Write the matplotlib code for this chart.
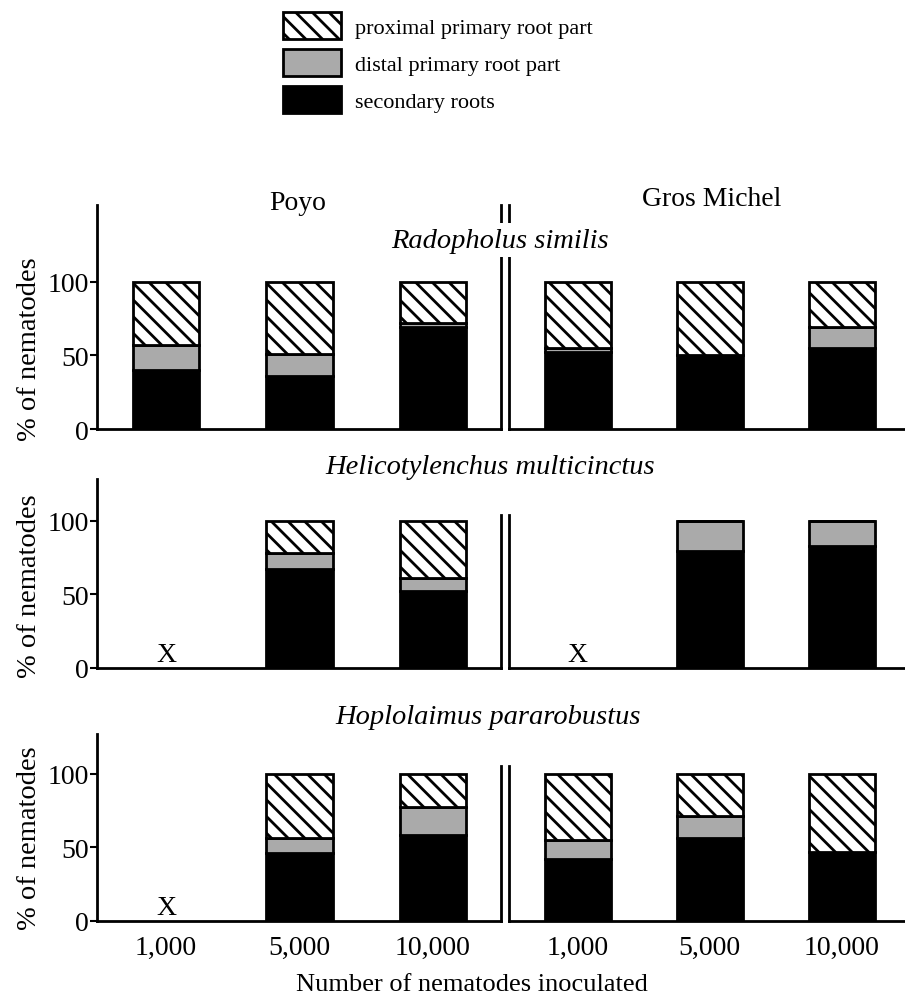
import matplotlib
matplotlib.use("Agg")
import matplotlib.pyplot as plt
from matplotlib.patches import Patch
import numpy as np

plt.rcParams["font.family"] = ["Liberation Serif", "DejaVu Serif"]
plt.rcParams["hatch.linewidth"] = 2.0

# Daten (Prozent der Nematoden je Wurzelteil)
doses = ["1,000", "5,000", "10,000"]
cultivars = ["Poyo", "Gros Michel"]
species = ["Radopholus similis", "Helicotylenchus multicinctus", "Hoplolaimus pararobustus"]
nan = np.nan

# [Art][Sorte][Dosis]
secondary = [
    [[40, 36, 69], [52, 50, 55]],
    [[nan, 67, 52], [nan, 79, 83]],
    [[nan, 46, 58], [42, 56, 47]],
]
distal = [
    [[17, 15, 3], [3, 0, 14]],
    [[nan, 11, 9], [nan, 21, 17]],
    [[nan, 10, 19], [13, 15, 0]],
]
proximal = [
    [[43, 49, 28], [45, 50, 31]],
    [[nan, 22, 39], [nan, 0, 0]],
    [[nan, 44, 23], [45, 29, 53]],
]

W, H = 905, 1004
fig = plt.figure(figsize=(W / 100, H / 100), dpi=100)

# Layout in Pixel (x links/rechts pro Sorte, y oben/Grundlinie pro Zeile)
panel_x = [(97, 501), (509, 905)]
xlims = [(-0.517, 2.51), (-0.52, 2.48)]
rows = [(206, 430), (480, 669), (735, 922)]
px_per_pct = 1.475
divider_top = [None, 104, 105]
ylabel_pos = [0.36, 0.44, 0.45]

bar_w = 0.5
x = np.arange(len(doses))

for r in range(3):
    ytop, ybase = rows[r]
    ymax = (ybase - ytop) / px_per_pct
    for c in range(2):
        x0, x1 = panel_x[c]
        ax = fig.add_axes([x0 / W, 1 - ybase / H, (x1 - x0) / W, (ybase - ytop) / H])
        sec = np.array(secondary[r][c], dtype=float)
        dis = np.array(distal[r][c], dtype=float)
        pro = np.array(proximal[r][c], dtype=float)
        ax.bar(x, sec, bar_w, color="black", edgecolor="black", linewidth=2)
        ax.bar(x, dis, bar_w, bottom=sec, color="#aaaaaa", edgecolor="black", linewidth=2)
        ax.bar(x, pro, bar_w, bottom=sec + dis, color="white", edgecolor="black",
               linewidth=2, hatch="\\\\")
        for i in x:
            if np.isnan(sec[i]):
                ax.text(i, 0.5, "X", ha="center", va="bottom", fontsize=20)
        ax.set_xlim(*xlims[c])
        ax.set_ylim(0, ymax)
        ax.spines["top"].set_visible(False)
        for s in ["left", "right", "bottom"]:
            ax.spines[s].set_linewidth(2)
        if c == 0:
            ax.spines["right"].set_visible(True)
            ax.set_yticks([0, 50, 100])
            ax.tick_params(axis="y", length=5, width=1.5, labelsize=20, pad=1)
            ax.set_ylabel("% of nematodes", fontsize=20.5)
            ax.yaxis.set_label_coords(-0.135, ylabel_pos[r])
            if divider_top[r] is not None:
                ax.spines["right"].set_bounds(0, divider_top[r])
        else:
            ax.spines["right"].set_visible(False)
            ax.set_yticks([])
            if divider_top[r] is not None:
                ax.spines["left"].set_bounds(0, divider_top[r])
        ax.set_xticks(x)
        if r == 2:
            ax.set_xticklabels(doses, fontsize=20)
            ax.tick_params(axis="x", length=0, pad=10)
        else:
            ax.set_xticklabels([])
            ax.tick_params(axis="x", length=0)

# Sortennamen
fig.text(298 / W, 1 - 203 / H, cultivars[0], ha="center", va="center", fontsize=20)
fig.text(712 / W, 1 - 199 / H, cultivars[1], ha="center", va="center", fontsize=20)

# Artnamen
title_y = [241, 467, 718]
title_x = [500, 490, 488]
for r in range(3):
    fig.text(title_x[r] / W, 1 - title_y[r] / H, species[r], ha="center", va="center",
             fontsize=20.5, style="italic",
             bbox=dict(facecolor="white", edgecolor="none", pad=3))

fig.text(472 / W, 1 - 985 / H, "Number of nematodes inoculated", ha="center",
         va="center", fontsize=19)

handles = [
    Patch(facecolor="white", edgecolor="black", linewidth=2, hatch="\\\\"),
    Patch(facecolor="#aaaaaa", edgecolor="black", linewidth=2),
    Patch(facecolor="black", edgecolor="black", linewidth=2),
]
labels = ["proximal primary root part", "distal primary root part", "secondary roots"]
fig.legend(handles, labels, loc="upper left", bbox_to_anchor=(283 / W, 1 - 13 / H),
           frameon=False, fontsize=16, handlelength=2.6, handleheight=1.5,
           labelspacing=0.45, handletextpad=0.65, borderpad=0, borderaxespad=0)

fig.savefig("out.png", dpi=100)
